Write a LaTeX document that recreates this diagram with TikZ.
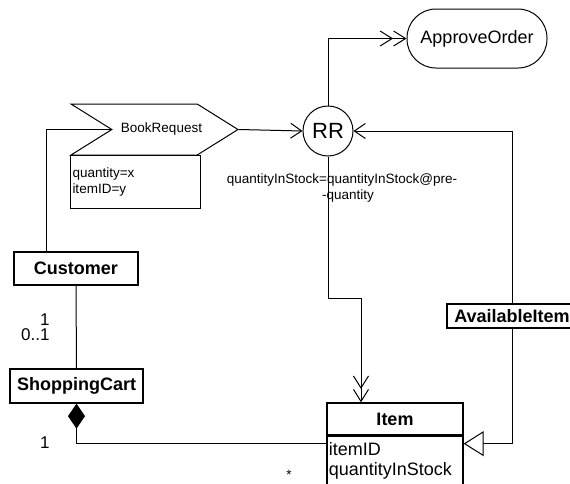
\documentclass[tikz,border=0pt]{standalone}
\usepackage{fontspec}
\setmainfont{Liberation Sans}
\usetikzlibrary{arrows.meta,shapes.symbols}

\begin{document}
\begin{tikzpicture}[x=1pt,y=-1pt,line width=1pt,
    cls/.style={draw,line width=1.3pt,font=\fontsize{18}{21}\selectfont\bfseries,inner sep=0pt},
    attr/.style={font=\fontsize{18}{20}\selectfont,align=left,inner sep=2pt},
    notefont/.style={font=\fontsize{13.5}{15.5}\selectfont},
    mult/.style={font=\fontsize{17}{18}\selectfont,inner sep=0pt},
    flow/.style={-{Straight Barb[length=11pt,width=15pt]}},
    dblflow/.style={-{Straight Barb[length=12pt,width=15pt] Straight Barb[length=12pt,width=15pt]}},
    inherit/.style={-{Triangle[open,length=20pt,width=25pt,fill=white]}},
    compos/.style={{Diamond[length=25pt,width=17pt]}-}]
              %\draw[help lines](0,0) grid (570,483);
              \useasboundingbox (0,0) rectangle (570,483);
              \clip (0,0) rectangle (570,483);

              \draw (477,38.5) node[draw,rounded corners=29pt,minimum width=140,minimum height=59,font=\fontsize{18}{21}\selectfont] (approve) {ApproveOrder};
              \draw (328,131) node[draw,circle,minimum size=50,inner sep=0pt,font=\fontsize{22}{24}\selectfont] (rr) {RR};
              \draw (154.5,129.5) node[draw,signal,signal from=west,signal to=east,signal pointer angle=64,minimum width=167,minimum height=51,inner sep=0pt,notefont] (bookreq) {\makebox[80pt]{\hspace*{14pt}BookRequest}};
              \draw (70,155) node[draw,anchor=north west,minimum width=130,minimum height=53,text width=126,align=left,inner sep=2pt,notefont] (reqattrs) {quantity=x\\itemID=y};
              \draw (342,188) node[notefont,align=center] (stocklbl) {quantityInStock=quantityInStock@pre-\\\hspace*{12pt}-quantity};

              \draw (76,268.5) node[cls,minimum width=124,minimum height=33] (customer) {Customer};
              \draw (76.5,386) node[cls,minimum width=133,minimum height=34] (cart) {ShoppingCart};
              \draw (512,316) node[cls,minimum width=130,minimum height=24] (avail) {AvailableItem};
              \draw (395,419) node[cls,minimum width=136,minimum height=32] (item) {Item};
              \draw (item.south) node[draw,line width=1.3pt,anchor=north,minimum width=136,minimum height=60] (itembody) {};
              \draw (itembody.north west) node[attr,anchor=north west,yshift=-4pt] (itemattrs) {itemID\\quantityInStock};

              \draw ([xshift=-30pt]customer.north) |- (bookreq.west);
              \draw[flow] (bookreq.east) -- (rr.west);
              \draw[dblflow] (rr.north) |- (approve.west);
              \draw[flow] (avail.north) |- (rr.east);
              \coordinate (bend) at (361,298);
              \draw[dblflow] (rr.south) |- (bend) -- (bend |- item.north);
              \draw[inherit] (avail.south) |- ([yshift=-8pt]item.south east);
              \draw[compos] (cart.south) |- ([yshift=-8pt]item.south west);
              \draw (customer) -- (cart);

              \draw (50,319.5) node[mult,anchor=east] (m1) {1};
              \draw (50,335) node[mult,anchor=east] (m2) {0..1};
              \draw (50,442.5) node[mult,anchor=east] (m3) {1};
              \draw (289,479) node[notefont,anchor=base,inner sep=0pt] (m4) {*};
            \end{tikzpicture}
\end{document}
